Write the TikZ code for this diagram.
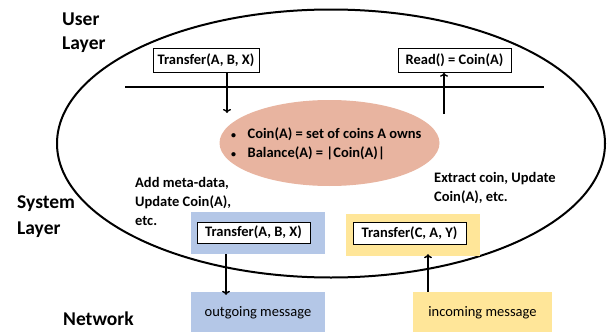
\documentclass[tikz,border=0pt]{standalone}
\usepackage{fontspec}
\setmainfont{Carlito}
\usetikzlibrary{arrows.meta,shapes.geometric}
\definecolor{salmon}{HTML}{E8B4A0}
\definecolor{bluefill}{HTML}{B4C7E7}
\definecolor{yellowfill}{HTML}{FFE699}
\tikzset{
  layerlbl/.style={font=\fontsize{19.5}{24}\selectfont\bfseries, align=left, anchor=west, inner sep=0pt},
  notelbl/.style={font=\fontsize{14.5}{19}\selectfont\bfseries, align=left, anchor=north west, inner sep=0pt},
  opbox/.style={draw, line width=0.9pt, fill=white, font=\fontsize{14.5}{17}\selectfont\bfseries, inner sep=0pt},
  sysbg/.style={draw=none, inner sep=0pt},
  msgbox/.style={draw=none, font=\fontsize{14.5}{17}\selectfont, inner sep=0pt},
  bullettxt/.style={font=\fontsize{14.5}{17}\selectfont\bfseries, anchor=west, inner sep=0pt},
  arr/.style={line width=1.4pt, -{To[length=4pt,width=8pt]}},
}
\newcommand{\smallbul}{{\fontsize{10}{10}\selectfont\textbullet}}
\begin{document}
\begin{tikzpicture}[x=1pt,y=-1pt]
\useasboundingbox (0,0) rectangle (608,332);
% big ellipse
\draw[line width=2pt] (331,143.5) ellipse [x radius=274, y radius=134];
% layer labels
\node[layerlbl] (user) at (62,19) {User};
\node[layerlbl] (userl) at (62,45) {Layer};
\node[layerlbl] (sys) at (17,204) {System};
\node[layerlbl] (sysl) at (17,230) {Layer};
\node[layerlbl] (net) at (63,319) {Network};
% horizontal line
\coordinate (hl) at (125,87);
\coordinate (hr) at (544,87);
\draw[line width=1.2pt] (hl) -- (hr);
% user ops
\node[opbox, minimum width=106pt, minimum height=24pt] (tab) at (206,60) {Transfer(A, B, X)};
\node[opbox, minimum width=113pt, minimum height=24pt] (read) at (454.5,60.3) {Read() = Coin(A)};
\coordinate (tabend) at (227,113);
\coordinate (readstart) at (444,114);
\draw[arr] (tab.south -| tabend) -- (tabend);
\draw[arr] (readstart) -- (read.south -| readstart);
% salmon ellipse
\node[fill=salmon, ellipse, draw=none, minimum width=220pt, minimum height=86pt, inner sep=0pt] (state) at (329.5,143) {};
\node[bullettxt] (b1) at (231,134.5) {\smallbul\hspace{11.5pt}Coin(A) = set of coins A owns};
\node[bullettxt] (b2) at (231,153) {\smallbul\hspace{11.5pt}Balance(A) = |Coin(A)|};
% notes
\node[notelbl] (note1) at (135,177) {Add meta-data,\\Update Coin(A),\\etc.};
\node[notelbl] (note2) at (434,172) {Extract coin, Update\\Coin(A), etc.};
% system boxes
\node[sysbg, fill=bluefill, minimum width=134pt, minimum height=42pt] (sysb) at (258,233) {};
\node[opbox, minimum width=113pt, minimum height=21pt] (tabs) at (253.5,232.5) {Transfer(A, B, X)};
\node[sysbg, fill=yellowfill, minimum width=134pt, minimum height=42pt] (sysy) at (413,235) {};
\node[opbox, minimum width=113pt, minimum height=22pt] (tcay) at (409.5,233) {Transfer(C, A, Y)};
% network messages
\node[msgbox, fill=bluefill, minimum width=134pt, minimum height=41pt] (out) at (258,312.5) {outgoing message};
\node[msgbox, fill=yellowfill, minimum width=139pt, minimum height=41pt] (in) at (482.5,312.5) {incoming message};
\coordinate (outx) at (226,0);
\coordinate (inx) at (428,0);
\draw[arr] (sysb.south -| outx) -- ([yshift=-3pt]out.north -| outx);
\draw[arr] (in.north -| inx) -- ([yshift=2pt]sysy.south -| inx);
\end{tikzpicture}
\end{document}
